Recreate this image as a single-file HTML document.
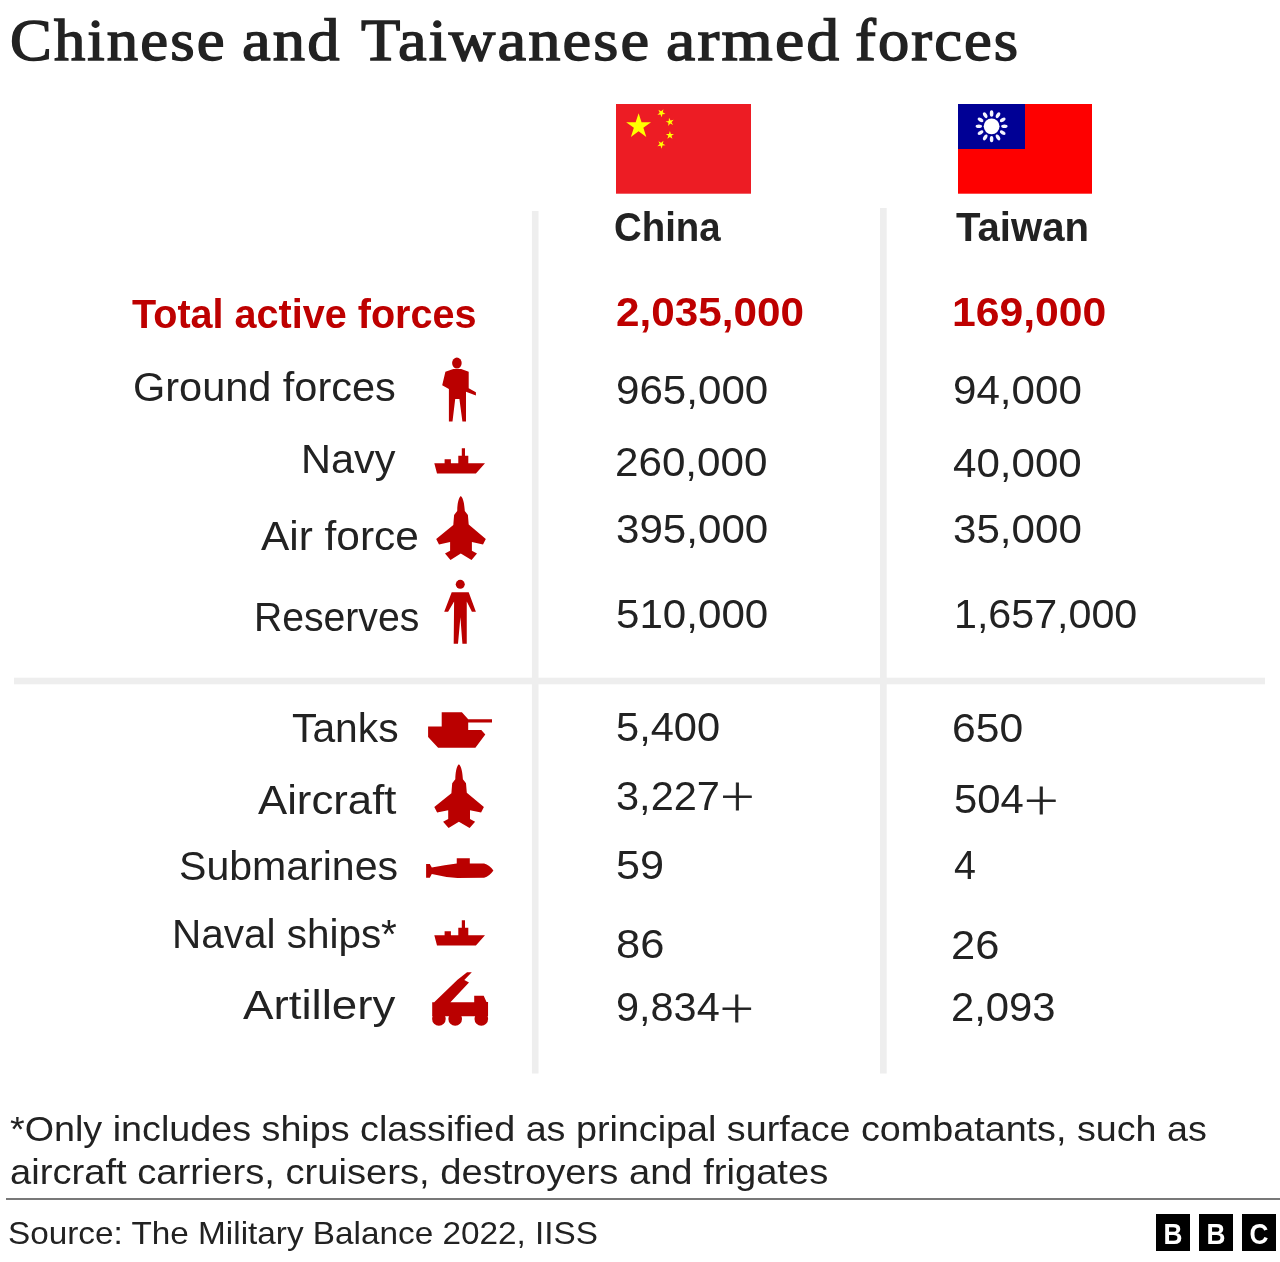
<!DOCTYPE html>
<html lang="en">
<head>
<meta charset="utf-8">
<title>Chinese and Taiwanese armed forces</title>
<style>
html,body{margin:0;padding:0;background:#fff}
#g{position:relative;width:1280px;height:1262px;overflow:hidden;background:#fff}
#g svg{position:absolute;display:block}
.ic{fill:#ba0000}
.t{position:absolute;white-space:nowrap;line-height:1;transform-origin:0 0;margin:0;padding:0}
.headline{margin:0;font-size:59.6px;font-weight:400}
.foot{position:absolute;left:6.2px;top:1198px;width:1273.8px;height:2px;background:#787878}
.title{font-family:"Liberation Serif", serif;font-weight:400;color:#222222;-webkit-text-stroke:1.4px #222222;letter-spacing:2.0px}
.hb{font-family:"Liberation Sans", sans-serif;font-weight:700;color:#222222}
.rb{font-family:"Liberation Sans", sans-serif;font-weight:700;color:#be0000}
.r{font-family:"Liberation Sans", sans-serif;font-weight:400;color:#222222}
.note{font-family:"Liberation Sans", sans-serif;font-weight:400;color:#222222}
.src{font-family:"Liberation Sans", sans-serif;font-weight:400;color:#222222}
.bbc{position:absolute;top:1214.3px;width:33.9px;height:37.2px;background:#000;overflow:hidden}
.bbc b{display:block;position:relative;top:0.3px;line-height:37.2px;text-align:center;color:#fff;font-family:"Liberation Sans",sans-serif;font-weight:700;font-size:29.5px;transform:scaleX(0.89)}
.p{font-family:"DejaVu Sans",sans-serif;font-weight:200;font-size:1.07em;line-height:0;position:relative;top:0.015em;margin-left:-0.03em;-webkit-text-stroke:0.8px #222}
</style>
</head>
<body>
<div id="g">
<header><h1 class="headline"><span class="t title" style="left:10.15px;top:10.9px;font-size:59.6px;transform:scaleX(1.0515)">Chinese</span> <span class="t title" style="left:241.92px;top:10.9px;font-size:59.6px;transform:scaleX(1.0831)">and</span> <span class="t title" style="left:361.0px;top:10.9px;font-size:59.6px;transform:scaleX(1.0808)">Taiwanese</span> <span class="t title" style="left:666.4px;top:10.9px;font-size:59.6px;transform:scaleX(1.1038)">armed</span> <span class="t title" style="left:854.65px;top:10.9px;font-size:59.6px;transform:scaleX(1.0487)">forces</span></h1></header>
<main>
<svg class="rules" aria-hidden="true" style="left:0px;top:200px" width="1280" height="880" viewBox="0 200 1280 880"><g fill="#eeeeee"><rect x="531.9" y="211" width="6.6" height="862.5"/><rect x="880" y="208" width="6.7" height="865.5"/><rect x="14" y="677.7" width="1251" height="6.6"/></g></svg>
<div class="head">
<div class="col china"><svg class="flag" aria-hidden="true" style="left:616px;top:104px" width="135" height="90" viewBox="616 104 135 90"><rect x="616" y="104" width="135" height="89.7" fill="#ed1c24"/><polygon points="638.60,113.20 641.54,122.25 651.06,122.25 643.36,127.85 646.30,136.90 638.60,131.30 630.90,136.90 633.84,127.85 626.14,122.25 635.66,122.25" fill="#ffff00"/><polygon points="663.45,109.28 662.80,112.33 665.51,113.89 662.40,114.22 661.75,117.28 660.48,114.42 657.37,114.75 659.69,112.66 658.42,109.80 661.13,111.37" fill="#ffff00"/><polygon points="673.62,119.85 671.53,122.17 673.10,124.88 670.24,123.61 668.15,125.93 668.48,122.82 665.62,121.55 668.68,120.90 669.01,117.79 670.57,120.50" fill="#ffff00"/><polygon points="669.90,131.00 670.87,133.97 673.99,133.97 671.46,135.81 672.43,138.78 669.90,136.94 667.37,138.78 668.34,135.81 665.81,133.97 668.93,133.97" fill="#ffff00"/><polygon points="663.45,140.68 662.80,143.73 665.51,145.29 662.40,145.62 661.75,148.68 660.48,145.82 657.37,146.15 659.69,144.06 658.42,141.20 661.13,142.77" fill="#ffff00"/></svg><div class="t hb" style="left:613.94px;top:206.8px;font-size:40.0px;transform:scaleX(0.9595)">China</div></div>
<div class="col taiwan"><svg class="flag" aria-hidden="true" style="left:958px;top:104px" width="134" height="90" viewBox="958 104 134 90"><rect x="958" y="104" width="134" height="89.7" fill="#fe0000"/><rect x="958" y="104" width="67" height="45" fill="#000095"/><g fill="#f4f4ff"><ellipse cx="991.6" cy="113.5" rx="1.8" ry="3.2" transform="rotate(0 991.6 126.3)"/><ellipse cx="991.6" cy="113.5" rx="1.8" ry="3.2" transform="rotate(30 991.6 126.3)"/><ellipse cx="991.6" cy="113.5" rx="1.8" ry="3.2" transform="rotate(60 991.6 126.3)"/><ellipse cx="991.6" cy="113.5" rx="1.8" ry="3.2" transform="rotate(90 991.6 126.3)"/><ellipse cx="991.6" cy="113.5" rx="1.8" ry="3.2" transform="rotate(120 991.6 126.3)"/><ellipse cx="991.6" cy="113.5" rx="1.8" ry="3.2" transform="rotate(150 991.6 126.3)"/><ellipse cx="991.6" cy="113.5" rx="1.8" ry="3.2" transform="rotate(180 991.6 126.3)"/><ellipse cx="991.6" cy="113.5" rx="1.8" ry="3.2" transform="rotate(210 991.6 126.3)"/><ellipse cx="991.6" cy="113.5" rx="1.8" ry="3.2" transform="rotate(240 991.6 126.3)"/><ellipse cx="991.6" cy="113.5" rx="1.8" ry="3.2" transform="rotate(270 991.6 126.3)"/><ellipse cx="991.6" cy="113.5" rx="1.8" ry="3.2" transform="rotate(300 991.6 126.3)"/><ellipse cx="991.6" cy="113.5" rx="1.8" ry="3.2" transform="rotate(330 991.6 126.3)"/></g><circle cx="991.6" cy="126.3" r="7.9" fill="#ffffff"/></svg><div class="t hb" style="left:956.1px;top:206.8px;font-size:40.0px;transform:scaleX(1.0031)">Taiwan</div></div>
</div>
<section class="group personnel">
<div class="row total"><div class="t rb label" style="left:131.8px;top:293.6px;font-size:40.0px;transform:scaleX(0.989)">Total active forces</div><div class="t rb val" style="left:616.14px;top:291.5px;font-size:40.0px;transform:scaleX(1.0557)">2,035,000</div><div class="t rb val" style="left:951.67px;top:291.5px;font-size:40.0px;transform:scaleX(1.0674)">169,000</div></div>
<div class="row ground"><div class="t r label" style="left:133.33px;top:366.6px;font-size:40.0px;transform:scaleX(1.0368)">Ground forces</div><svg class="ic" aria-hidden="true" style="left:440px;top:355px" width="38" height="69" viewBox="440 355 38 69"><ellipse cx="456.9" cy="363.1" rx="4.8" ry="5.5"/><path d="M453.3 368.9 L461.2 368.9 L468.7 371.7 L468.7 388.3 L475.9 392.3 L475.9 395.5 L466 391.8 L466 421.6 L462.4 421.6 L459.4 399 L455.2 399 L452.5 421.6 L448.9 421.6 L448.9 389.1 L442.2 385.2 L445.4 371.7 Z"/></svg><div class="t r val" style="left:616.09px;top:369.9px;font-size:40.0px;transform:scaleX(1.0532)">965,000</div><div class="t r val" style="left:953.29px;top:369.9px;font-size:40.0px;transform:scaleX(1.0529)">94,000</div></div>
<div class="row navy"><div class="t r label" style="left:300.99px;top:439.1px;font-size:40.0px;transform:scaleX(1.0364)">Navy</div><svg class="ic" aria-hidden="true" style="left:432px;top:446px" width="56" height="30" viewBox="432 446 56 30"><path d="M434.3 463.3 L444.6 463.3 L444.6 459.3 L450.9 459.3 L450.9 463.3 L458.3 463.3 L458.3 455.8 L461.8 455.8 L461.8 448.2 L465 448.2 L465 455.8 L468.3 455.8 L468.3 463.3 L485 463.3 L475.9 473.6 L437 473.6 Z"/></svg><div class="t r val" style="left:614.69px;top:442.3px;font-size:40.0px;transform:scaleX(1.0539)">260,000</div><div class="t r val" style="left:953.45px;top:442.6px;font-size:40.0px;transform:scaleX(1.0517)">40,000</div></div>
<div class="row air"><div class="t r label" style="left:260.8px;top:516.2px;font-size:40.0px;transform:scaleX(1.0595)">Air force</div><svg class="ic" aria-hidden="true" style="left:434px;top:494px" width="54" height="68" viewBox="434 494 54 68"><path d="M460.8 496.1 C463.6 498.6 464.4 505 464.8 511.1 L467.9 515.1 L468.7 524.6 L485.8 538.9 L483 544.4 L471.9 542 L471.9 550.8 L477 553.5 L471.5 559.9 L460.8 553.5 L450.5 559.9 L445 553.5 L450.1 550.8 L450.1 542 L439 544.4 L436.2 538.9 L453.3 525 L454.1 515.1 L457.2 511.1 C457.4 505 458 498.6 460.8 496.1 Z"/></svg><div class="t r val" style="left:616.09px;top:509.3px;font-size:40.0px;transform:scaleX(1.0532)">395,000</div><div class="t r val" style="left:953.29px;top:509.3px;font-size:40.0px;transform:scaleX(1.0529)">35,000</div></div>
<div class="row res"><div class="t r label" style="left:253.87px;top:596.6px;font-size:40.0px;transform:scaleX(0.9782)">Reserves</div><svg class="ic" aria-hidden="true" style="left:442px;top:577px" width="36" height="69" viewBox="442 577 36 69"><circle cx="460.25" cy="584.35" r="4.5"/><path d="M451.7 592.3 L468.7 592.3 L475.9 611.75 L471.9 611.75 L466.75 601.5 L466.75 643.8 L462.4 643.8 L460.4 617.3 L458 643.8 L453.7 643.8 L454.1 601.5 L448.1 611.75 L444.2 611.75 Z"/></svg><div class="t r val" style="left:616.09px;top:593.5px;font-size:40.0px;transform:scaleX(1.0532)">510,000</div><div class="t r val" style="left:953.71px;top:593.5px;font-size:40.0px;transform:scaleX(1.0299)">1,657,000</div></div>
</section>
<section class="group equipment">
<div class="row tanks"><div class="t r label" style="left:291.88px;top:708.3px;font-size:40.0px;transform:scaleX(1.0196)">Tanks</div><svg class="ic" aria-hidden="true" style="left:426px;top:710px" width="68" height="40" viewBox="426 710 68 40"><path d="M441.7 712.2 L461.9 712.2 L468.2 719.3 L492 719.3 L492 722.5 L468.2 722.5 L468.2 730 L481.3 730 L485.3 734.4 L475.4 747.7 L438.1 747.7 L428.1 737.1 L428.1 726.5 L441.7 726.5 Z"/></svg><div class="t r val" style="left:616.12px;top:706.7px;font-size:40.0px;transform:scaleX(1.0402)">5,400</div><div class="t r val" style="left:952.37px;top:707.6px;font-size:40.0px;transform:scaleX(1.0656)">650</div></div>
<div class="row airc"><div class="t r label" style="left:257.5px;top:779.6px;font-size:40.0px;transform:scaleX(1.0929)">Aircraft</div><svg class="ic" aria-hidden="true" style="left:432px;top:762px" width="54" height="68" viewBox="432 762 54 68"><path transform="translate(-1.9,268.2)" d="M460.8 496.1 C463.6 498.6 464.4 505 464.8 511.1 L467.9 515.1 L468.7 524.6 L485.8 538.9 L483 544.4 L471.9 542 L471.9 550.8 L477 553.5 L471.5 559.9 L460.8 553.5 L450.5 559.9 L445 553.5 L450.1 550.8 L450.1 542 L439 544.4 L436.2 538.9 L453.3 525 L454.1 515.1 L457.2 511.1 C457.4 505 458 498.6 460.8 496.1 Z"/></svg><div class="t r val" style="left:615.82px;top:775.5px;font-size:40.0px;transform:scaleX(1.0388)">3,227<span class="p">+</span></div><div class="t r val" style="left:953.61px;top:778.9px;font-size:40.0px;transform:scaleX(1.0448)">504<span class="p">+</span></div></div>
<div class="row sub"><div class="t r label" style="left:179.35px;top:846.1px;font-size:40.0px;transform:scaleX(1.0262)">Submarines</div><svg class="ic" aria-hidden="true" style="left:424px;top:856px" width="72" height="24" viewBox="424 856 72 24"><path d="M426.1 864 L429.8 864 L431.8 867.5 Q445 865 456.75 863.6 L456.75 858.3 L469.8 858.3 L469.8 863.6 L484.1 863.6 Q489.5 865 493.4 870.6 Q489.5 876.4 484.1 877.7 L457.5 877.9 Q445 877.2 431.8 873.9 L429.8 877.7 L426.1 877.7 Z"/></svg><div class="t r val" style="left:616.04px;top:844.9px;font-size:40.0px;transform:scaleX(1.0805)">59</div><div class="t r val" style="left:954.41px;top:844.9px;font-size:40.0px;transform:scaleX(0.985)">4</div></div>
<div class="row naval"><div class="t r label" style="left:171.77px;top:913.9px;font-size:40.0px;transform:scaleX(1.0114)">Naval ships*</div><svg class="ic" aria-hidden="true" style="left:432px;top:918px" width="56" height="30" viewBox="432 918 56 30"><path transform="translate(0,472)" d="M434.3 463.3 L444.6 463.3 L444.6 459.3 L450.9 459.3 L450.9 463.3 L458.3 463.3 L458.3 455.8 L461.8 455.8 L461.8 448.2 L465 448.2 L465 455.8 L468.3 455.8 L468.3 463.3 L485 463.3 L475.9 473.6 L437 473.6 Z"/></svg><div class="t r val" style="left:615.62px;top:924.2px;font-size:40.0px;transform:scaleX(1.0878)">86</div><div class="t r val" style="left:951.02px;top:925.4px;font-size:40.0px;transform:scaleX(1.0878)">26</div></div>
<div class="row art"><div class="t r label" style="left:243.4px;top:984.8px;font-size:40.0px;transform:scaleX(1.1421)">Artillery</div><svg class="ic" aria-hidden="true" style="left:430px;top:970px" width="60" height="58" viewBox="430 970 60 58"><path d="M432.2 1002.3 L434.2 1002.3 L457.5 979.7 L467.05 972.2 L471.8 972.2 L464.3 980.1 L469 982.5 L450.4 1002.3 L474.2 1002.3 L474.2 995.8 L483.7 995.8 L486.5 1001.9 L488.05 1001.9 L488.05 1016.2 L432.2 1016.2 Z"/><circle cx="438.9" cy="1018.9" r="6.8"/><circle cx="455.2" cy="1018.9" r="6.8"/><circle cx="481.3" cy="1018.9" r="6.8"/></svg><div class="t r val" style="left:616.13px;top:986.9px;font-size:40.0px;transform:scaleX(1.0357)">9,834<span class="p">+</span></div><div class="t r val" style="left:951.11px;top:986.9px;font-size:40.0px;transform:scaleX(1.0448)">2,093</div></div>
</section>
</main>
<footer>
<p class="footnote"><span class="t note" style="left:9.55px;top:1111.7px;font-size:35.8px;transform:scaleX(1.0535)">*Only includes ships classified as principal surface combatants, such as</span> <span class="t note" style="left:9.93px;top:1154.7px;font-size:35.8px;transform:scaleX(1.0656)">aircraft carriers, cruisers, destroyers and frigates</span></p>
<div class="foot"></div>
<div class="t src" style="left:8.32px;top:1216.75px;font-size:32.0px;transform:scaleX(1.041)">Source: The Military Balance 2022, IISS</div>
<div class="logo"><span class="bbc" style="left:1156.2px"><b>B</b></span><span class="bbc" style="left:1199.1px"><b>B</b></span><span class="bbc" style="left:1241.9px"><b>C</b></span></div>
</footer>
</div>
</body>
</html>
